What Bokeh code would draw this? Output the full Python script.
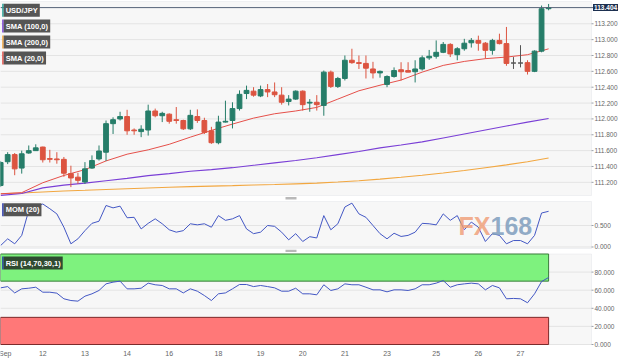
from bokeh.plotting import figure
from bokeh.models import Range1d, Label, BoxAnnotation, Span, ColumnDataSource
from bokeh.layouts import column
from bokeh.embed import file_html
from bokeh.resources import INLINE

# ---------------- data (4h candles, USD/JPY) ----------------
opens = [111.16, 111.46, 111.55, 111.38, 111.57, 111.60, 111.645, 111.50, 111.495, 111.49,
         111.31, 111.265, 111.205, 111.38, 111.495, 111.58, 111.94, 112.00, 112.03, 111.86,
         111.84, 111.86, 112.10, 112.04, 112.06, 111.99, 111.98, 111.875, 112.03, 111.98,
         111.85, 111.70, 111.96, 111.98, 112.13, 112.32, 112.35, 112.29, 112.37, 112.34,
         112.30, 112.22, 112.25, 112.35, 112.20, 112.21, 112.17, 112.59, 112.41, 112.51,
         112.74, 112.71, 112.70, 112.63, 112.58, 112.435, 112.535, 112.62, 112.61, 112.595,
         112.63, 112.77, 112.79, 112.84, 112.94, 112.81, 112.885, 112.96, 112.99, 112.955,
         112.865, 112.99, 112.95, 112.705, 112.705, 112.71, 112.60, 112.855, 113.39]
highs = [111.47, 111.58, 111.57, 111.60, 111.665, 111.68, 111.65, 111.61, 111.58, 111.52,
         111.41, 111.32, 111.455, 111.54, 111.665, 111.98, 112.02, 112.09, 112.115, 111.88,
         111.92, 112.18, 112.13, 112.09, 112.07, 112.15, 111.99, 112.115, 112.12, 112.015,
         111.90, 112.04, 112.23, 112.21, 112.36, 112.42, 112.40, 112.42, 112.44, 112.46,
         112.40, 112.30, 112.36, 112.36, 112.25, 112.30, 112.61, 112.61, 112.53, 112.80,
         112.885, 112.80, 112.80, 112.72, 112.61, 112.55, 112.65, 112.715, 112.715, 112.74,
         112.80, 112.87, 112.99, 112.97, 112.955, 112.905, 113.01, 113.02, 113.05, 112.97,
         113.01, 113.075, 113.16, 112.78, 112.93, 112.74, 112.865, 113.43, 113.45]
lows = [111.14, 111.43, 111.29, 111.31, 111.56, 111.60, 111.45, 111.45, 111.435, 111.27,
        111.14, 111.18, 111.18, 111.37, 111.475, 111.47, 111.81, 111.98, 111.80, 111.80,
        111.77, 111.79, 112.02, 111.96, 111.94, 111.94, 111.86, 111.86, 111.95, 111.81,
        111.685, 111.68, 111.955, 111.88, 112.105, 112.25, 112.28, 112.275, 112.275, 112.275,
        112.18, 112.17, 112.24, 112.105, 112.09, 112.105, 112.04, 112.39, 112.39, 112.485,
        112.695, 112.63, 112.51, 112.51, 112.52, 112.40, 112.52, 112.485, 112.59, 112.46,
        112.61, 112.745, 112.76, 112.83, 112.78, 112.74, 112.86, 112.90, 112.86, 112.76,
        112.81, 112.94, 112.67, 112.63, 112.65, 112.56, 112.59, 112.84, 113.37]
closes = [111.45, 111.55, 111.37, 111.56, 111.60, 111.635, 111.485, 111.49, 111.485, 111.315,
          111.255, 111.225, 111.37, 111.475, 111.595, 111.94, 111.99, 112.03, 111.85, 111.85,
          111.87, 112.10, 112.04, 112.07, 111.97, 111.98, 111.875, 112.045, 111.98, 111.83,
          111.70, 111.96, 111.97, 112.13, 112.31, 112.36, 112.30, 112.37, 112.34, 112.305,
          112.21, 112.25, 112.35, 112.18, 112.21, 112.18, 112.59, 112.41, 112.51, 112.74,
          112.71, 112.70, 112.64, 112.58, 112.60, 112.535, 112.61, 112.595, 112.59, 112.63,
          112.77, 112.79, 112.84, 112.94, 112.82, 112.885, 112.955, 112.99, 112.955, 112.865,
          112.99, 112.95, 112.70, 112.705, 112.705, 112.60, 112.855, 113.39, 113.404]

sma_idx = [0, 3, 6, 9, 12, 15, 18, 21, 24, 27, 30, 33, 36, 39, 42, 45, 48, 51, 54, 57,
           60, 63, 66, 69, 72, 75, 78]
sma20 = [111.056, 111.07, 111.195, 111.287, 111.36, 111.47, 111.555, 111.61, 111.68, 111.77,
         111.855, 111.935, 112.01, 112.065, 112.10, 112.145, 112.25, 112.355, 112.425, 112.49,
         112.59, 112.675, 112.725, 112.76, 112.78, 112.81, 112.884]
sma100 = [111.035, 111.06, 111.13, 111.165, 111.19, 111.22, 111.25, 111.285, 111.31, 111.34,
          111.36, 111.385, 111.415, 111.445, 111.475, 111.51, 111.55, 111.59, 111.635, 111.67,
          111.71, 111.76, 111.81, 111.86, 111.91, 111.96, 112.005]
sma200 = [111.056, 111.066, 111.079, 111.091, 111.10, 111.11, 111.119, 111.129, 111.138, 111.146,
          111.152, 111.158, 111.166, 111.173, 111.181, 111.19, 111.204, 111.22, 111.24, 111.264,
          111.29, 111.318, 111.35, 111.385, 111.42, 111.46, 111.507]

mom = [0.035, 0.19, 0.074, 0.27, 0.85, 0.93, 1.0, 0.89, 0.77, 0.46,
       0.074, 0.19, 0.38, 0.55, 0.60, 0.965, 0.91, 0.95, 0.68, 0.69,
       0.42, 0.55, 0.655, 0.54, 0.40, 0.345, 0.38, 0.54, 0.515, 0.54,
       0.46, 0.73, 0.62, 0.655, 0.73, 0.42, 0.31, 0.345, 0.50, 0.48,
       0.345, 0.167, 0.31, 0.128, 0.24, 0.21, 0.73, 0.40, 0.54, 0.93,
       1.02, 0.77, 0.69, 0.50, 0.31, 0.19, 0.32, 0.245, 0.27, 0.345,
       0.55, 0.54, 0.515, 0.77, 0.62, 0.73, 0.40, 0.58, 0.46, 0.128,
       0.31, 0.27, 0.074, 0.15, 0.15, 0.074, 0.27, 0.79, 0.83]
rsi = [62.6, 64, 57, 61.5, 62.2, 63.3, 57.8, 57.8, 56.7, 50.5,
       48.6, 47.9, 53.4, 56, 59.7, 67, 68.9, 70, 61.5, 61.5,
       62.2, 67.8, 66, 65.2, 61.5, 61.5, 57, 61.5, 58.9, 54.1,
       48.6, 56, 57, 61.5, 66.3, 66.3, 64, 65.2, 64, 62.6,
       58.9, 58.9, 62.2, 56, 56, 54.9, 66, 59.7, 61.5, 67,
       66, 66, 63.3, 60.4, 60.4, 58.2, 60.4, 60.4, 59.7, 61.5,
       66, 66, 67.8, 70.7, 63.3, 66, 67, 67.8, 67, 60.4,
       65.2, 62.6, 50.5, 50.9, 50.5, 46.1, 56, 69.6, 74]

day_idx = [0, 6, 12, 18, 24, 31, 37, 43, 49, 55, 62, 68, 74]
day_labels = ["Sep", "12", "13", "14", "16", "18", "19", "20", "21", "23", "25", "26", "27"]
last_price = 113.404
price_ticks = [111.2, 111.4, 111.6, 111.8, 112.0, 112.2, 112.4, 112.6, 112.8, 113.0, 113.2]
mom_ticks = [0.0, 0.5]
rsi_ticks = [0, 20, 40, 60, 80]
rsi_upper, rsi_lower = 70, 30

# ---------------- layout (reference-pixel geometry) ----------------
W = 618
SX, SY = 1.0, 1.0
CANDLE_PX, X0_PX = 7.025, 0.15          # candle spacing / first candle in px
BG = "#f7f7f7"
GRID = "#e4e4e4"
OUTLINE = "#d3d8df"
GREEN = "#267d69"
RED = "#dc5440"
LINE_BLUE = "#4357c4"
LABEL_GRAY = "#666666"

n = len(closes)
idx = list(range(n))


def rx(ref_px):
    return (ref_px - X0_PX) / CANDLE_PX


xr = Range1d(rx(0), rx(618))
PANEL_END = rx(591)


class Panel:
    def __init__(self, fig_top, fig_h, ref_top, ref_bot, vmax, vmin):
        a = ref_top * SY - fig_top
        b = ref_bot * SY - fig_top
        self.u = (vmax - vmin) / (b - a)
        self.fig_top = fig_top
        self.y_end = vmax + a * self.u
        self.y_start = vmin - (fig_h - b) * self.u
        self.p = figure(frame_width=W, frame_height=fig_h, x_range=xr,
                        y_range=Range1d(self.y_start, self.y_end),
                        output_backend="svg", toolbar_location=None,
                        x_axis_location=None, y_axis_location=None, min_border=0)
        p = self.p
        p.background_fill_color = "white"
        p.border_fill_color = "white"
        p.outline_line_color = None
        p.grid.visible = False
        p.add_layout(BoxAnnotation(right=PANEL_END, top=vmax, bottom=vmin,
                                   fill_color=BG, fill_alpha=1,
                                   line_color=OUTLINE, line_width=1, level="underlay"))

    def ry(self, ref_px):
        return self.y_end - (ref_px * SY - self.fig_top) * self.u

    def grid_and_ticks(self, ticks, fmt="{:.3f}"):
        p = self.p
        k = len(ticks)
        p.segment(x0=[xr.start] * k, x1=[PANEL_END] * k, y0=ticks, y1=ticks,
                  line_color=GRID, line_width=1)
        p.segment(x0=[PANEL_END] * k, x1=[rx(593)] * k, y0=ticks, y1=ticks,
                  line_color="#9aa0a8", line_width=1)
        p.text(x=[rx(594)] * k, y=ticks, text=[fmt.format(t) for t in ticks],
               text_align="left", text_baseline="middle",
               text_font_size="6.5px", text_color=LABEL_GRAY)

    def tag(self, text, ref_top, accent, bg="#555555"):
        p = self.p
        p.add_layout(BoxAnnotation(left=rx(1.7), right=rx(3.2),
                                   top=self.ry(ref_top), bottom=self.ry(ref_top + 13),
                                   fill_color=accent, fill_alpha=1, line_alpha=0, level="overlay"))
        p.add_layout(Label(x=rx(3.2), y=self.ry(ref_top), text=text,
                           text_align="left", text_baseline="top",
                           text_color="white", text_font_style="bold", text_font_size="7.5px",
                           background_fill_color=bg, background_fill_alpha=1,
                           padding=2, level="overlay"))

    def handle(self, ref_top):
        self.p.add_layout(BoxAnnotation(left=rx(285), right=rx(296),
                                        top=self.ry(ref_top), bottom=self.ry(ref_top + 2.5),
                                        fill_color="#b9b9b9", fill_alpha=1,
                                        line_alpha=0, level="overlay"))


# ---------------- main price panel ----------------
M = Panel(0, 200, 1, 195, 113.481, 111.034)
main = M.p
M.grid_and_ticks(price_ticks)

colors = [GREEN if c > o else (RED if c < o else "#555555") for o, c in zip(opens, closes)]
src = ColumnDataSource(dict(x=idx, o=opens, h=highs, l=lows, c=closes,
                            top=[max(o, c) for o, c in zip(opens, closes)],
                            bot=[min(o, c) for o, c in zip(opens, closes)],
                            col=colors))

main.line(sma_idx, sma200, line_color="#f2a740", line_width=1.1)
main.line(sma_idx, sma100, line_color="#7a3fd6", line_width=1.1)
main.line(sma_idx, sma20, line_color="#e5504a", line_width=1.0)
main.segment(x0="x", y0="l", x1="x", y1="h", source=src, line_color="col", line_width=1)
main.vbar(x="x", width=0.68, top="top", bottom="bot", source=src,
          fill_color="col", line_color="col", line_width=1)

main.add_layout(Span(location=last_price, dimension="width",
                     line_color="#556378", line_width=1))
main.add_layout(Label(x=rx(592.5), y=last_price, text=f"{last_price:.3f}",
                      text_align="left", text_baseline="middle",
                      text_color="white", text_font_style="bold", text_font_size="6.5px",
                      background_fill_color="#1d3050", background_fill_alpha=1,
                      padding=1, level="overlay"))

M.tag("USD/JPY", 3.3, "#26a69a")
M.tag("SMA (100,0)", 19.0, "#7a3fd6")
M.tag("SMA (200,0)", 35.0, "#f2a740")
M.tag("SMA (20,0)", 51.0, "#e5504a")
M.handle(196.5)

# ---------------- momentum panel ----------------
Q = Panel(200, 52, 201, 248, 1.058, -0.035)
mom_p = Q.p
Q.grid_and_ticks(mom_ticks)
mom_p.line(idx, mom, line_color=LINE_BLUE, line_width=1)
Q.tag("MOM (20)", 202.7, "#2233aa")
Q.handle(249.3)
wm_y = Q.ry(225.5)
mom_p.add_layout(Label(x=rx(458), y=wm_y, text="FX", text_align="left",
                       text_baseline="middle", text_font_size="25px", text_font_style="bold",
                       text_color="#f09a72", text_alpha=0.8, level="overlay"))
mom_p.add_layout(Label(x=rx(490), y=wm_y, text="168", text_align="left",
                       text_baseline="middle", text_font_size="25px", text_font_style="bold",
                       text_color="#7f9dbd", text_alpha=0.85, level="overlay"))

# ---------------- RSI panel ----------------
R = Panel(252, 108, 253.5, 344, 100, 0)
rsi_p = R.p
R.grid_and_ticks(rsi_ticks)
rsi_p.quad(left=[xr.start, xr.start], right=[idx[-1], idx[-1]],
           bottom=[rsi_upper, 0], top=[100, rsi_lower],
           fill_color=["#7ef27e", "#ff7878"], line_color=["#3c7d3c", "#7d2a2a"], line_width=1)
rsi_p.line(idx, rsi, line_color=LINE_BLUE, line_width=1)
R.tag("RSI (14,70,30,1)", 256.0, "#2233aa", bg="#2f4a31")

tick_locs = [max(d, 0.65) for d in day_idx]
rsi_p.text(x=tick_locs, y=[R.ry(352.5)] * len(tick_locs), text=day_labels,
           text_align="center", text_baseline="middle",
           text_font_size="7px", text_color=LABEL_GRAY)

layout = column(main, mom_p, rsi_p, spacing=0)
open("out.html", "w").write(file_html(layout, INLINE))
